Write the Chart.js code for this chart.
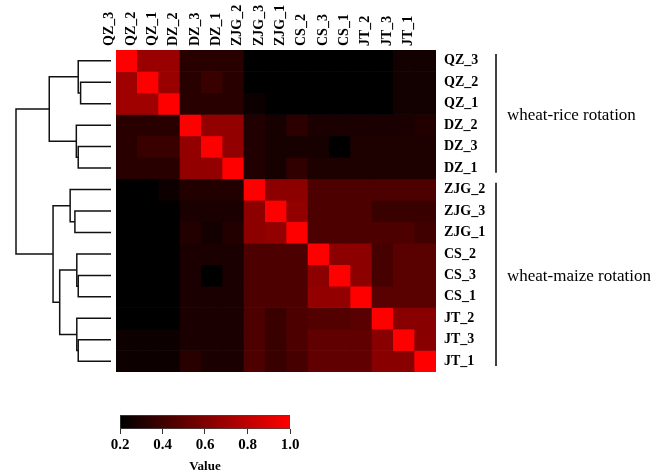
<!DOCTYPE html>
<html>
<head>
<meta charset="utf-8">
<script src="https://cdn.jsdelivr.net/npm/chart.js@4/dist/chart.umd.min.js"></script>
<style>
  html, body { margin: 0; padding: 0; background: #fff; }
  #wrap { position: relative; width: 666px; height: 474px; }
  #wrap canvas { position: absolute; }
</style>
</head>
<body>
<div id="wrap">
  <canvas id="heat" width="666" height="474" style="left:0;top:0"></canvas>
  <canvas id="dendro" width="106" height="322" style="left:10px;top:50px"></canvas>
  <canvas id="cbar" width="210" height="74" style="left:100px;top:400px"></canvas>
</div>
<script>
const labels = ['QZ_3', 'QZ_2', 'QZ_1', 'DZ_2', 'DZ_3', 'DZ_1', 'ZJG_2', 'ZJG_3', 'ZJG_1', 'CS_2', 'CS_3', 'CS_1', 'JT_2', 'JT_3', 'JT_1'];

// similarity values, rows and columns in the order of labels
const corr = [
  [1.00, 0.68, 0.68, 0.33, 0.33, 0.33, 0.20, 0.20, 0.20, 0.20, 0.20, 0.20, 0.20, 0.26, 0.26],
  [0.70, 1.00, 0.68, 0.33, 0.38, 0.33, 0.20, 0.20, 0.20, 0.20, 0.20, 0.20, 0.20, 0.26, 0.26],
  [0.70, 0.70, 1.00, 0.33, 0.33, 0.33, 0.24, 0.20, 0.20, 0.20, 0.20, 0.20, 0.20, 0.26, 0.26],
  [0.33, 0.33, 0.33, 1.00, 0.66, 0.66, 0.30, 0.27, 0.34, 0.28, 0.28, 0.28, 0.28, 0.28, 0.31],
  [0.33, 0.38, 0.38, 0.66, 1.00, 0.66, 0.30, 0.27, 0.27, 0.27, 0.20, 0.29, 0.29, 0.29, 0.29],
  [0.33, 0.33, 0.33, 0.66, 0.66, 1.00, 0.30, 0.27, 0.35, 0.29, 0.29, 0.29, 0.29, 0.29, 0.29],
  [0.20, 0.20, 0.24, 0.31, 0.31, 0.31, 1.00, 0.64, 0.64, 0.44, 0.44, 0.44, 0.44, 0.44, 0.44],
  [0.20, 0.20, 0.20, 0.28, 0.28, 0.28, 0.64, 1.00, 0.66, 0.44, 0.44, 0.44, 0.38, 0.38, 0.38],
  [0.20, 0.20, 0.20, 0.31, 0.26, 0.31, 0.64, 0.66, 1.00, 0.44, 0.44, 0.44, 0.44, 0.44, 0.40],
  [0.20, 0.20, 0.20, 0.28, 0.28, 0.28, 0.44, 0.44, 0.44, 1.00, 0.64, 0.64, 0.42, 0.48, 0.48],
  [0.20, 0.20, 0.20, 0.28, 0.20, 0.28, 0.44, 0.44, 0.44, 0.64, 1.00, 0.64, 0.42, 0.48, 0.48],
  [0.20, 0.20, 0.20, 0.28, 0.28, 0.28, 0.44, 0.44, 0.44, 0.66, 0.66, 1.00, 0.48, 0.48, 0.48],
  [0.20, 0.20, 0.20, 0.28, 0.28, 0.28, 0.44, 0.38, 0.44, 0.46, 0.46, 0.48, 1.00, 0.63, 0.63],
  [0.24, 0.24, 0.24, 0.28, 0.28, 0.28, 0.44, 0.38, 0.44, 0.50, 0.50, 0.50, 0.63, 1.00, 0.63],
  [0.24, 0.24, 0.24, 0.33, 0.28, 0.28, 0.44, 0.38, 0.42, 0.50, 0.50, 0.50, 0.63, 0.63, 1.00]
];

// dendrogram merges: [child a, child b, height]; ids 0-14 are leaves, 15+ are earlier merges
const merges = [
  [1, 2, 0.32], [0, 15, 0.345],
  [4, 5, 0.345], [3, 17, 0.365],
  [16, 18, 0.65],
  [7, 8, 0.38], [6, 20, 0.43],
  [10, 11, 0.345], [9, 22, 0.36],
  [13, 14, 0.345], [12, 24, 0.36],
  [23, 25, 0.54],
  [21, 26, 0.61],
  [19, 27, 1.0]
];

const groupNames = ['wheat-rice rotation', 'wheat-maize rotation'];
const groupFrom = [0, 6];
const groupTo = [6, 15];

const cbarTicks = [0.2, 0.4, 0.6, 0.8, 1.0];
const vMin = 0.2, vMax = 1.0;

const serif = "'Liberation Serif', 'Times New Roman', serif";

function colorFor(v) {
  const t = Math.max(0, Math.min(1, (v - vMin) / (vMax - vMin)));
  return `rgb(${Math.round(255 * t)},0,0)`;
}

// heatmap: one floating bar per cell
const heatSets = corr.map((row, r) => ({
  data: labels.map(() => [r, r + 1]),
  backgroundColor: row.map(colorFor),
  borderWidth: 0,
  barPercentage: 1,
  categoryPercentage: 1,
  grouped: false
}));

const groupPlugin = {
  id: 'groups',
  afterDraw(chart) {
    const ctx = chart.ctx;
    const y = chart.scales.y;
    const lx = chart.chartArea.right + 60;
    ctx.save();
    ctx.strokeStyle = '#000';
    ctx.lineWidth = 1.5;
    ctx.fillStyle = '#000';
    ctx.font = `17px ${serif}`;
    ctx.textBaseline = 'middle';
    groupNames.forEach((name, i) => {
      const y0 = y.getPixelForValue(groupFrom[i]) + 4;
      const y1 = y.getPixelForValue(groupTo[i]) - 6;
      ctx.beginPath();
      ctx.moveTo(lx, y0);
      ctx.lineTo(lx, y1);
      ctx.stroke();
      ctx.fillText(name, lx + 11, (y0 + y1) / 2 + 2);
    });
    ctx.restore();
  }
};

new Chart(document.getElementById('heat'), {
  type: 'bar',
  data: { labels: labels, datasets: heatSets },
  options: {
    responsive: false,
    animation: false,
    layout: { padding: { left: 116, bottom: 102, top: 0, right: 0 } },
    plugins: { legend: { display: false }, tooltip: { enabled: false } },
    scales: {
      x: {
        position: 'top',
        offset: true,
        grid: { display: false, drawTicks: false },
        border: { display: false },
        ticks: { minRotation: 90, maxRotation: 90, padding: 4, autoSkip: false, color: '#000',
                 font: { family: serif, size: 14, weight: 'bold' } },
        afterFit: s => { s.height = 50; }
      },
      y: {
        type: 'linear',
        position: 'right',
        reverse: true,
        min: 0,
        max: 15,
        grid: { display: false, drawTicks: false },
        border: { display: false },
        afterBuildTicks: s => { s.ticks = labels.map((_, i) => ({ value: i + 0.5 })); },
        ticks: { callback: (v, i) => labels[i], padding: 8, autoSkip: false, color: '#000',
                 font: { family: serif, size: 14, weight: 'bold' } },
        afterFit: s => { s.width = 230; }
      }
    }
  },
  plugins: [groupPlugin]
});

// dendrogram: turn merges into bracket polylines
const nodeH = labels.map(() => 0);
const nodeY = labels.map((_, i) => i + 0.5);
const dendroSets = merges.map(([a, b, h]) => {
  nodeH.push(h);
  nodeY.push((nodeY[a] + nodeY[b]) / 2);
  return {
    data: [
      { x: nodeH[a], y: nodeY[a] }, { x: h, y: nodeY[a] },
      { x: h, y: nodeY[b] }, { x: nodeH[b], y: nodeY[b] }
    ],
    showLine: true,
    borderColor: '#111',
    borderWidth: 1.5,
    pointRadius: 0,
    clip: false
  };
});

new Chart(document.getElementById('dendro'), {
  type: 'scatter',
  data: { datasets: dendroSets },
  options: {
    responsive: false,
    animation: false,
    layout: { padding: { left: 6, right: 5, top: 0, bottom: 0 } },
    plugins: { legend: { display: false }, tooltip: { enabled: false } },
    scales: {
      x: { type: 'linear', reverse: true, min: 0, max: 1, display: false },
      y: { type: 'linear', reverse: true, min: 0, max: 15, display: false }
    }
  }
});

// colour key
new Chart(document.getElementById('cbar'), {
  type: 'bar',
  data: {
    labels: [''],
    datasets: [{
      data: [[vMin, vMax]],
      backgroundColor: (c) => {
        const ch = c.chart;
        if (!ch.chartArea) return null;
        const xs = ch.scales.x;
        const g = ch.ctx.createLinearGradient(xs.getPixelForValue(vMin), 0, xs.getPixelForValue(vMax), 0);
        g.addColorStop(0, colorFor(vMin));
        g.addColorStop(1, colorFor(vMax));
        return g;
      },
      borderColor: '#444',
      borderWidth: 1,
      borderSkipped: false,
      barPercentage: 1,
      categoryPercentage: 1
    }]
  },
  options: {
    indexAxis: 'y',
    responsive: false,
    animation: false,
    layout: { padding: { left: 20, right: 20, top: 15, bottom: 0 } },
    plugins: { legend: { display: false }, tooltip: { enabled: false } },
    scales: {
      x: {
        type: 'linear',
        min: vMin,
        max: vMax,
        afterBuildTicks: s => { s.ticks = cbarTicks.map(v => ({ value: v })); },
        grid: { drawOnChartArea: false, tickLength: 5, color: '#333' },
        border: { display: false },
        ticks: { callback: v => v.toFixed(1), padding: 2, color: '#000',
                 font: { family: serif, size: 15, weight: 'bold' } },
        title: { display: true, text: 'Value', color: '#000', padding: 0,
                 font: { family: serif, size: 13, weight: 'bold' } },
        afterFit: s => { s.height = 45; }
      },
      y: { display: false }
    }
  }
});
</script>
</body>
</html>
